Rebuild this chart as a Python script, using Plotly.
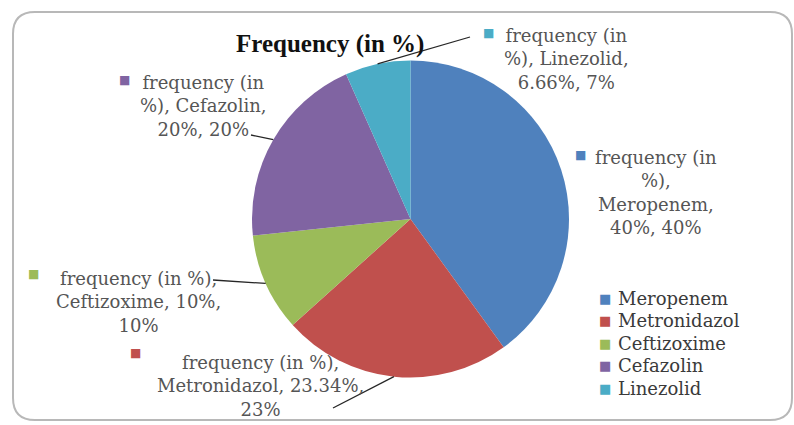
import plotly.graph_objects as go
import math

# ---- data ----
series_name = "frequency (in %)"
drugs = ["Meropenem", "Metronidazol", "Ceftizoxime", "Cefazolin", "Linezolid"]
freq_pct = [40, 23.34, 10, 20, 6.66]
colors = ["#4F81BD", "#C0504D", "#9BBB59", "#8064A2", "#4BACC6"]
title_text = "Frequency (in %)"

W, H = 794, 425
def px(x):
    return x / W
def py(y):
    return 1 - y / H

# pie geometry (pixels)
pie_left, pie_right, pie_top, pie_bottom = 252, 569, 60, 378
cx = (pie_left + pie_right) / 2
cy = (pie_top + pie_bottom) / 2
R = (pie_right - pie_left) / 2

fig = go.Figure()
fig.add_trace(go.Pie(
    labels=drugs, values=freq_pct, sort=False, direction="clockwise", rotation=0,
    marker=dict(colors=colors, line=dict(width=0)),
    textinfo="none", hoverinfo="label+percent",
    domain=dict(x=[px(pie_left), px(pie_right)], y=[py(pie_bottom), py(pie_top)]),
    showlegend=False,
))

# label text patterns (line breaks as in the original)
def label_text(i):
    name = drugs[i]
    v = freq_pct[i]
    vs = (f"{v:g}%")
    p = f"{round(v / sum(freq_pct) * 100)}%"
    pats = {
        "Meropenem": f"frequency (in<br>%),<br>{name},<br>{vs}, {p}",
        "Metronidazol": f"frequency (in %),<br>{name}, {vs},<br>{p}",
        "Ceftizoxime": f"frequency (in %),<br>{name}, {vs},<br>{p}",
        "Cefazolin": f"frequency (in<br>%), {name},<br>{vs}, {p}",
        "Linezolid": f"frequency (in<br>%), {name},<br>{vs}, {p}",
    }
    return pats[name]

# label placement (pixels): text centre, marker square, leader line end near text
label_pos = {
    "Meropenem": dict(tx=656, ty=192, sx=580, sy=155, lx=None, ly=None),
    "Metronidazol": dict(tx=260, ty=386, sx=135, sy=353, lx=333, ly=408),
    "Ceftizoxime": dict(tx=138, ty=302, sx=33, sy=274, lx=213, ly=280),
    "Cefazolin": dict(tx=203, ty=106, sx=124, sy=80, lx=251, ly=135),
    "Linezolid": dict(tx=566, ty=59, sx=488, sy=33, lx=470, ly=37),
}

total = sum(freq_pct)
cum = 0
annotations = []
shapes = []
lab_font = dict(family="DejaVu Serif", size=18, color="#555555")
for i, name in enumerate(drugs):
    mid = (cum + freq_pct[i] / 2) / total * 2 * math.pi
    cum += freq_pct[i]
    ex = cx + R * math.sin(mid)
    ey = cy - R * math.cos(mid)
    pos = label_pos[name]
    annotations.append(dict(
        x=px(pos["tx"]), y=py(pos["ty"]), xref="paper", yref="paper",
        text=label_text(i), showarrow=False, align="center",
        xanchor="center", yanchor="middle", font=lab_font,
    ))
    annotations.append(dict(
        x=px(pos["sx"]), y=py(pos["sy"]), xref="paper", yref="paper",
        text="■", showarrow=False, xanchor="center", yanchor="middle",
        font=dict(family="DejaVu Sans", size=12, color=colors[i]),
    ))
    if pos["lx"] is not None:
        shapes.append(dict(
            type="line", xref="paper", yref="paper",
            x0=px(pos["lx"]), y0=py(pos["ly"]), x1=px(ex), y1=py(ey),
            line=dict(color="#262626", width=1.3),
        ))

# legend (drawn as text entries)
leg_x_sym, leg_x_text, leg_y0, leg_dy = 605, 616, 298, 22.5
for i, name in enumerate(drugs):
    yy = leg_y0 + i * leg_dy
    annotations.append(dict(
        x=px(leg_x_sym), y=py(yy), xref="paper", yref="paper", text="■",
        showarrow=False, xanchor="center", yanchor="middle",
        font=dict(family="DejaVu Sans", size=13, color=colors[i]),
    ))
    annotations.append(dict(
        x=px(leg_x_text), y=py(yy), xref="paper", yref="paper", text=name,
        showarrow=False, xanchor="left", yanchor="middle",
        font=dict(family="DejaVu Serif", size=18, color="#3a3a3a"),
    ))

annotations.append(dict(
    x=px(330), y=py(44), xref="paper", yref="paper", text=f"<b>{title_text}</b>",
    showarrow=False, xanchor="center", yanchor="middle",
    font=dict(family="Liberation Serif", size=25, color="#111111"),
))

# rounded chart frame
x0, y0, x1, y1 = px(13), py(12), px(792), py(420)
rx, ry = 22 / W, 22 / H
path = (f"M {x0+rx},{y0} L {x1-rx},{y0} Q {x1},{y0} {x1},{y0-ry} "
        f"L {x1},{y1+ry} Q {x1},{y1} {x1-rx},{y1} L {x0+rx},{y1} "
        f"Q {x0},{y1} {x0},{y1+ry} L {x0},{y0-ry} Q {x0},{y0} {x0+rx},{y0} Z")
shapes.insert(0, dict(type="path", xref="paper", yref="paper", path=path,
                      line=dict(color="#b8b8b8", width=2), fillcolor="rgba(0,0,0,0)"))

fig.update_layout(
    width=W, height=H, margin=dict(l=0, r=0, t=0, b=0),
    paper_bgcolor="white", plot_bgcolor="white",
    annotations=annotations, shapes=shapes, showlegend=False,
)

fig.write_html("out.html")
